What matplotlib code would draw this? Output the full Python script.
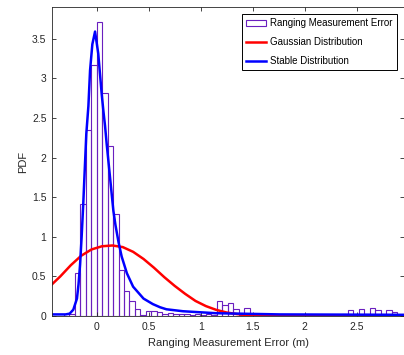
"""
Ranging error histogram with fitted Gaussian and stable PDFs.
"""

import numpy as np
import matplotlib
matplotlib.use('Agg')
import matplotlib.pyplot as plt

plt.rcParams['font.family'] = ['Liberation Sans', 'DejaVu Sans']

# --- Data ---
bin_width = 0.0525
bin_first = -6   # index of first bin, bins start at k * bin_width
hist_pdf = [
    0.02, 0.03, 0.545, 1.41, 2.35, 3.17,            # k = -6 .. -1
    3.71, 2.82, 2.14, 1.29, 0.58, 0.31, 0.19, 0.09,  # k = 0 .. 7
    0.01, 0.06, 0.06, 0.045, 0.025, 0.04, 0.025, 0.02,
    0.02, 0.015, 0.02, 0.01, 0.02, 0.01,            # k = 8 .. 21
    0.185, 0.135, 0.17, 0.09, 0.01, 0.10, 0.01,      # k = 22 .. 28
    0.0, 0.01, 0.0, 0.0, 0.01, 0.0, 0.01, 0.0,
    0.0, 0.01, 0.0, 0.0, 0.01, 0.0, 0.0, 0.01,      # k = 29 .. 44
    0.03, 0.07, 0.03, 0.088, 0.03, 0.10, 0.07, 0.02,
    0.07, 0.05, 0.01, 0.03,                          # k = 45 .. 56
]

gauss_x = [-0.43, -0.35, -0.25, -0.15, -0.05, 0.05, 0.15, 0.25, 0.35, 0.45,
           0.55, 0.65, 0.75, 0.85, 0.95, 1.05, 1.15, 1.25, 1.35, 1.45,
           1.6, 1.8, 2.95]
gauss_pdf = [0.40, 0.50, 0.64, 0.76, 0.84, 0.88, 0.89, 0.87, 0.81, 0.72,
             0.61, 0.49, 0.38, 0.28, 0.19, 0.125, 0.077, 0.044, 0.024, 0.012,
             0.004, 0.001, 0.0]

stable_x = [-0.43, -0.30, -0.26, -0.225, -0.19, -0.175, -0.16, -0.145, -0.13,
            -0.10, -0.08, -0.064, -0.042, -0.016, 0.015, 0.048, 0.064, 0.08,
            0.096, 0.128, 0.16, 0.18, 0.21, 0.24, 0.29, 0.35, 0.45, 0.54,
            0.61, 0.67, 0.83, 1.15, 1.76, 2.95]
stable_pdf = [0.02, 0.02, 0.03, 0.08, 0.22, 0.40, 0.65, 1.0, 1.4,
              2.3, 2.65, 3.1, 3.43, 3.59, 3.31, 2.80, 2.59, 2.4,
              2.17, 1.75, 1.33, 1.15, 0.93, 0.75, 0.54, 0.37, 0.22, 0.15,
              0.11, 0.085, 0.06, 0.035, 0.02, 0.015]

x_ticks = [0, 0.5, 1, 1.5, 2, 2.5]
x_tick_labels = ['0', '0.5', '1', '1.5', '2', '2.5']
y_ticks = [0, 0.5, 1, 1.5, 2, 2.5, 3, 3.5]
y_tick_labels = ['0', '0.5', '1', '1.5', '2', '2.5', '3', '3.5']

# --- Plot ---
fig = plt.figure(figsize=(4.04, 3.55), dpi=100)
fig.patch.set_facecolor('#ffffff')
ax = fig.add_axes([52 / 404, 39 / 355, 352 / 404, 309 / 355])

left_edges = (np.arange(len(hist_pdf)) + bin_first) * bin_width
bars = ax.bar(left_edges, hist_pdf, width=bin_width, align='edge', fill=False,
              edgecolor='#6a1fbf', linewidth=0.8)
gauss_line, = ax.plot(gauss_x, gauss_pdf, color='#ff0000', linewidth=1.8)
stable_line, = ax.plot(stable_x, stable_pdf, color='#0000ff', linewidth=1.8)

ax.set_xlim(-0.43, 2.955)
ax.set_ylim(0, 3.9)
ax.set_xticks(x_ticks, x_tick_labels)
ax.set_yticks(y_ticks, y_tick_labels)

ax.set_xlabel('Ranging Measurement Error (m)', fontsize=8, color='#262626',
              labelpad=5)
ax.set_ylabel('PDF', fontsize=8, color='#262626', labelpad=3)
ax.tick_params(direction='in', length=3, width=0.6, colors='#262626',
               labelsize=7.5, top=True, right=True, pad=4)
for sp in ax.spines.values():
    sp.set_color('#262626')
    sp.set_linewidth(0.6)

leg = ax.legend([bars, gauss_line, stable_line],
                ['Ranging Measurement Error', 'Gaussian Distribution',
                 'Stable Distribution'],
                loc='upper right', bbox_to_anchor=(0.98, 0.977), fontsize=7,
                frameon=True, fancybox=False, framealpha=1,
                edgecolor='#000000', handlelength=2.0, handletextpad=0.45,
                borderpad=0.45, labelspacing=0.9, borderaxespad=0)
leg.get_frame().set_linewidth(0.7)

plt.savefig('out.png', dpi=100)
plt.close()
